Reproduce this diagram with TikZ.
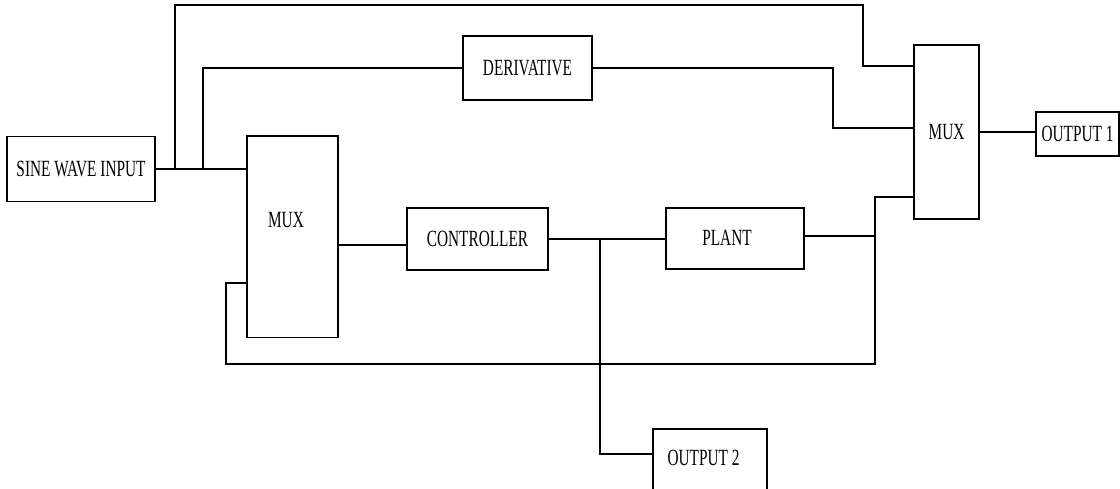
\documentclass[tikz,border=0pt]{standalone}
\usepackage{fontspec}
\setmainfont{Liberation Serif}[FakeStretch=0.66]

\begin{document}
\begin{tikzpicture}[
  x=0.025cm,y=-0.025cm,
  line width=0.75pt,
  blk/.style={draw,inner sep=0,font=\fontsize{16.5}{18}\selectfont},
  lbl/.style={inner sep=0,font=\fontsize{16.5}{18}\selectfont},
]
  \useasboundingbox (0,0) rectangle (1120,488);
  \clip (0,0) rectangle (1120,488);
  \foreach \n/\x/\y/\w/\h/\t in {sine/81/169/3.7/1.625/SINE WAVE INPUT,
      mux1/292.5/236.5/2.275/5.025/{},deriv/527.5/68/3.225/1.6/DERIVATIVE,
      ctrl/477.5/239/3.525/1.55/CONTROLLER,plant/735/238.5/3.45/1.525/{},
      mux2/946.5/132/1.625/4.35/MUX,out1/1077.5/134/2.075/1.1/OUTPUT 1,
      out2/710/463/2.85/1.7/{}}
    \node[blk,minimum width=\w cm,minimum height=\h cm] (\n) at (\x,\y) {\t};
  \node[lbl] (mux1t) at (286,220) {MUX};
  \node[lbl] (plantt) at (727,238) {PLANT};
  \node[lbl] (out2t) at (703.5,457.5) {OUTPUT 2};
  % junctions
  \coordinate (j1) at (175,169);
  \coordinate (j2) at (203,169);
  \coordinate (j3) at (600,239);
  \coordinate (j4) at (875,236);
  \draw (sine.east) -- (mux1.west |- sine.east);
  \draw (j1) -- (175,5) -| (863,66) -- (mux2.west |- 0,66);
  \draw (j2) |- (deriv.west);
  \draw (deriv.east) -| (833,128) -- (mux2.west |- 0,128);
  \draw (mux2.east) -- (mux2.east -| out1.west);
  \draw (mux1.east |- 0,245) -- (ctrl.west |- 0,245);
  \draw (ctrl.east) -- (ctrl.east -| plant.west);
  \draw (j3) |- (out2.west |- 0,454);
  \draw (plant.east |- j4) -- (j4);
  \draw (mux2.west |- 0,197) -| (875,364) -| (226,283) -- (mux1.west |- 0,283);
\end{tikzpicture}
\end{document}
